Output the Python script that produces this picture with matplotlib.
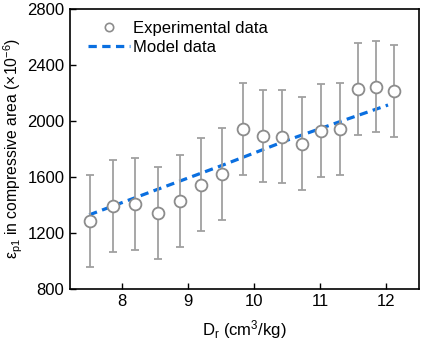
import matplotlib
matplotlib.use("Agg")
import matplotlib.pyplot as plt
from matplotlib.lines import Line2D

plt.rcParams['font.family'] = ['Liberation Sans', 'DejaVu Sans']
plt.rcParams['mathtext.fontset'] = 'custom'
plt.rcParams['mathtext.rm'] = 'Liberation Sans'
plt.rcParams['mathtext.it'] = 'Liberation Sans'

# Experimental data
exp_x = [7.51, 7.86, 8.20, 8.54, 8.87, 9.20, 9.51, 9.83, 10.13, 10.43, 10.72, 11.02, 11.30, 11.58, 11.85, 12.12]
exp_y = [1286, 1393, 1407, 1345, 1429, 1545, 1624, 1943, 1893, 1888, 1838, 1931, 1943, 2226, 2245, 2214]
exp_err = [328, 327, 327, 328, 328, 330, 329, 331, 330, 330, 331, 330, 331, 329, 327, 330]

# Model data
model_x = [7.5, 8.5, 9.5, 10.5, 11.3, 12.03]
model_y = [1329, 1505, 1680, 1862, 1995, 2114]

xticks = [8, 9, 10, 11, 12]
yticks = [800, 1200, 1600, 2000, 2400, 2800]

fig = plt.figure(figsize=(4.22, 3.46), dpi=100)
ax = fig.add_axes([0.166, 0.165, 0.827, 0.809])

gray = '#8c8c8c'
blue = '#0a6fe0'
dash = (0, (2.6, 1.7))

ax.plot(model_x, model_y, color=blue, lw=2.3, ls=dash, zorder=3)
ax.errorbar(exp_x, exp_y, yerr=exp_err, fmt='o', ms=8.5, mfc='white', mec=gray,
            mew=1.3, ecolor='#a0a0a0', elinewidth=1.3, capsize=2.6, capthick=1.2, zorder=4)

ax.set_xlim(7.21, 12.5)
ax.set_ylim(800, 2800)
ax.set_xticks(xticks)
ax.set_yticks(yticks)
ax.tick_params(direction='in', labelsize=12, length=4, width=1, pad=4,
               top=False, right=False)
for s in ax.spines.values():
    s.set_linewidth(1.2)

ax.set_xlabel(r'D$_\mathrm{r}$ (cm$^\mathrm{3}$/kg)', fontsize=12, labelpad=6)
ax.set_ylabel(r'ε$_\mathrm{p1}$ in compressive area (×10$^\mathrm{-6}$)', fontsize=11.3, labelpad=2)

handles = [
    Line2D([], [], marker='o', ls='none', ms=6, mfc='white', mec=gray, mew=1.2),
    Line2D([], [], color=blue, lw=2.3, ls=dash),
]
ax.legend(handles, ['Experimental data', 'Model data'], loc='upper left', frameon=False,
          fontsize=12, handlelength=2.5, handletextpad=0.2, borderpad=0,
          borderaxespad=0, labelspacing=0.25, bbox_to_anchor=(0.0516, 0.957))

fig.savefig('out.png', dpi=100)
